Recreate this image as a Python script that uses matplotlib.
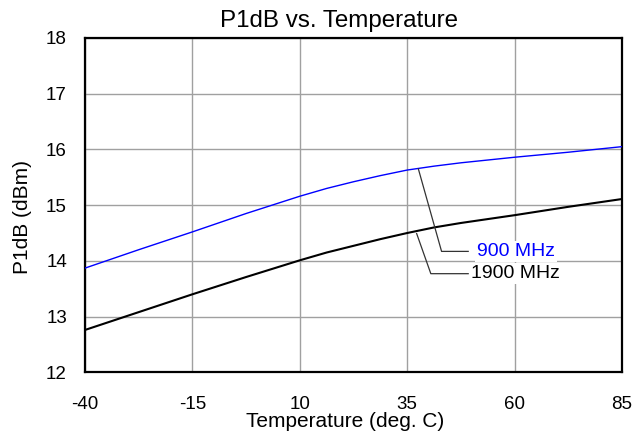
import matplotlib
matplotlib.use("Agg")
import matplotlib.pyplot as plt

plt.rcParams['font.family'] = ['Liberation Sans', 'DejaVu Sans']
plt.rcParams['axes.unicode_minus'] = False

temps = [-40, -27.5, -15, -2.5, 10, 16.25, 22.5, 28.75, 35, 41.25, 47.5, 60, 72.5, 85]
p1db_900 = [13.87, 14.20, 14.52, 14.85, 15.16, 15.30, 15.42, 15.53, 15.63, 15.70, 15.76, 15.86, 15.95, 16.05]
p1db_1900 = [12.76, 13.08, 13.40, 13.71, 14.01, 14.15, 14.27, 14.39, 14.50, 14.60, 14.68, 14.82, 14.97, 15.11]
xticks = [-40, -15, 10, 35, 60, 85]
yticks = [12, 13, 14, 15, 16, 17, 18]
label_900 = "900 MHz"
label_1900 = "1900 MHz"

fig = plt.figure(figsize=(6.36, 4.47), dpi=100)
ax = fig.add_axes([85/636, (447-372.3)/447, 537/636, 334.3/447])

ax.plot(temps, p1db_900, color='#0000ff', lw=1.0, zorder=3, solid_joinstyle='round')
ax.plot(temps, p1db_1900, color='black', lw=1.5, zorder=3, solid_joinstyle='round')

ax.set_xlim(-40, 85)
ax.set_ylim(12, 18)
ax.set_xticks(xticks)
ax.set_yticks(yticks)
ax.grid(True, color='#a0a0a0', lw=1.0)
ax.set_axisbelow(True)
ax.tick_params(length=0, labelsize=13.5)
ax.tick_params(axis='y', pad=13)
ax.tick_params(axis='x', pad=17)
for s in ax.spines.values():
    s.set_linewidth(1.6)
    s.set_color('black')

ax.set_title("P1dB vs. Temperature", fontsize=17.4, x=0.473, pad=7.7)
ax.set_xlabel("Temperature (deg. C)", fontsize=15)
ax.set_ylabel("P1dB (dBm)", fontsize=15)
ax.xaxis.set_label_coords(0.484, -0.118)
ax.yaxis.set_label_coords(-0.098, 0.465)

# leader lines
ax.plot([37.6, 43.0, 49.2], [15.65, 14.17, 14.17], color='#333333', lw=0.9, zorder=4)
ax.plot([37.2, 40.5, 49.2], [14.49, 13.77, 13.77], color='#333333', lw=0.9, zorder=4)
bbox = dict(facecolor='white', edgecolor='none', pad=1.5)
ax.text(60.3, 14.17, label_900, color='#0000ff', fontsize=14, ha='center', va='center', bbox=bbox, zorder=5)
ax.text(60.3, 13.77, label_1900, color='black', fontsize=14, ha='center', va='center', bbox=bbox, zorder=5)

fig.savefig("out.png", dpi=100)
